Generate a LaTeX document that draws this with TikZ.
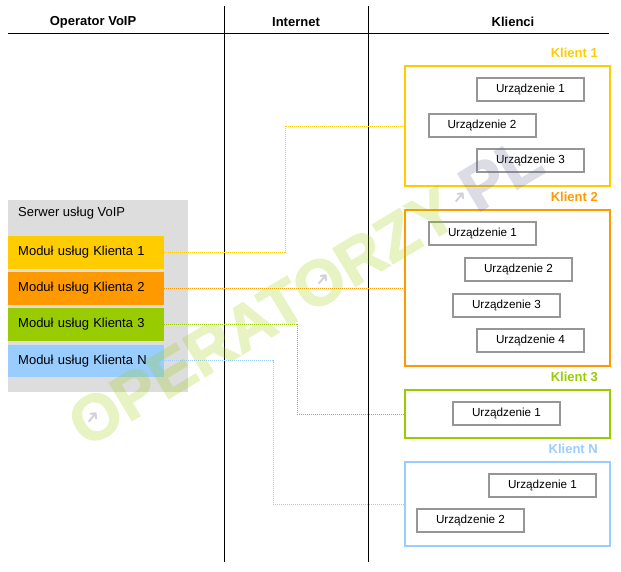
\documentclass[tikz,border=0pt]{standalone}
\usepackage{fontspec}
\setmainfont{Liberation Sans}
\newfontfamily\symfont{DejaVu Sans}
\newfontfamily\wmfont[FakeBold=2]{Liberation Sans Bold}
\definecolor{kyellow}{RGB}{255,204,0}
\definecolor{korange}{RGB}{255,153,0}
\definecolor{kgreen}{RGB}{153,204,0}
\definecolor{kblue}{RGB}{153,204,255}
\definecolor{sgrey}{RGB}{221,221,221}
\definecolor{dgrey}{RGB}{150,150,150}
\definecolor{wmgreen}{RGB}{153,204,0}
\definecolor{wmgrey}{RGB}{110,110,150}
\definecolor{wmarr}{RGB}{120,120,140}
\begin{document}
\begin{tikzpicture}[x=1pt,y=-1pt,
  hdr/.style={font=\fontsize{13}{15}\selectfont\bfseries},
  klabel/.style={anchor=east, inner sep=0pt, font=\fontsize{13}{15}\selectfont\bfseries},
  dev/.style={draw=dgrey, line width=2pt, fill=white, minimum width=107pt, minimum height=23pt, inner sep=0pt, font=\fontsize{11.7}{14}\selectfont},
  modbox/.style={anchor=north west, minimum height=32.5pt, inner xsep=10pt, inner ysep=0pt, text width=136pt, align=left, font=\fontsize{13}{15}\selectfont},
  client/.style={draw=#1, line width=2pt, anchor=north west, minimum width=205pt, inner sep=0pt},
  con/.style={draw=#1, line width=1pt, dash pattern=on 1pt off 1pt},
  wmarrow/.style={text=wmarr, opacity=0.35, inner sep=0pt, font=\symfont\fontsize{17}{17}\selectfont, rotate=50}
]
\useasboundingbox (0,0) rectangle (621,571);
% header
\draw[line width=1pt] (224.5,6) -- (224.5,562);
\draw[line width=1pt] (368.5,6) -- (368.5,562);
\draw[line width=1pt] (8,33) -- (609,33);
\node[hdr] (h1) at (93,22) {Operator VoIP};
\node[hdr] (h2) at (296,22) {Internet};
\node[hdr] (h3) at (513,22) {Klienci};
% server
\fill[sgrey] (8,200) rectangle (188,392);
\node[anchor=west, inner sep=0pt, font=\fontsize{13}{15}\selectfont] (srv) at (18,213) {Serwer usług VoIP};
\node[modbox, fill=kyellow] (m1) at (8,236) {Moduł usług Klienta 1};
\node[modbox, fill=korange] (m2) at (8,272) {Moduł usług Klienta 2};
\node[modbox, fill=kgreen] (m3) at (8,308) {Moduł usług Klienta 3};
\node[modbox, fill=kblue] (mN) at (8,344.5) {Moduł usług Klienta N};
% clients
\node[client=kyellow, minimum height=120pt] (cl1) at (404,65) {};
\node[client=korange, minimum height=156pt] (cl2) at (404,209) {};
\node[client=kgreen, minimum height=48pt] (cl3) at (404,389) {};
\node[client=kblue, minimum height=84pt] (clN) at (404,461) {};
\node[klabel, text=kyellow] (k1) at (598,53) {Klient 1};
\node[klabel, text=korange] (k2) at (598,197) {Klient 2};
\node[klabel, text=kgreen] (k3) at (598,377) {Klient 3};
\node[klabel, text=kblue] (kN) at (598,449) {Klient N};
% devices
\node[dev] (d11) at (530.5,89.5) {Urządzenie 1};
\node[dev] (d12) at (482,125) {Urządzenie 2};
\node[dev] (d13) at (530.5,160.5) {Urządzenie 3};
\node[dev] (d21) at (482.5,233) {Urządzenie 1};
\node[dev] (d22) at (518.5,269) {Urządzenie 2};
\node[dev] (d23) at (506.5,305) {Urządzenie 3};
\node[dev] (d24) at (530.5,340.5) {Urządzenie 4};
\node[dev] (d31) at (506.5,413) {Urządzenie 1};
\node[dev] (dN1) at (542.5,485.5) {Urządzenie 1};
\node[dev] (dN2) at (470.5,520.5) {Urządzenie 2};
% connectors
\coordinate (j1) at (285,190);
\coordinate (j3) at (297,370);
\coordinate (jN) at (273,430);
\draw[con=kyellow] (m1.east) -| (j1) |- (cl1.west);
\draw[con=korange] (m2.east) -- (m2.east -| cl2.west);
\draw[con=kgreen] (m3.east) -| (j3) |- (cl3.west);
\draw[con=kblue] (mN.east) -| (jN) |- (clN.west);
% watermark
\begin{scope}[transparency group, opacity=0.24]
\node[rotate=31, inner sep=0pt, text=wmgreen, font=\wmfont\fontsize{64}{70}\selectfont] (wm) at (305,291) {OPERATORZY\phantom{.}\textcolor{wmgrey}{PL}};
\end{scope}
\node[wmarrow] (a1) at (93,418) {➜};
\node[wmarrow] (a2) at (323,280) {➜};
\node[wmarrow] (a3) at (460,198) {➜};
\end{tikzpicture}
\end{document}
